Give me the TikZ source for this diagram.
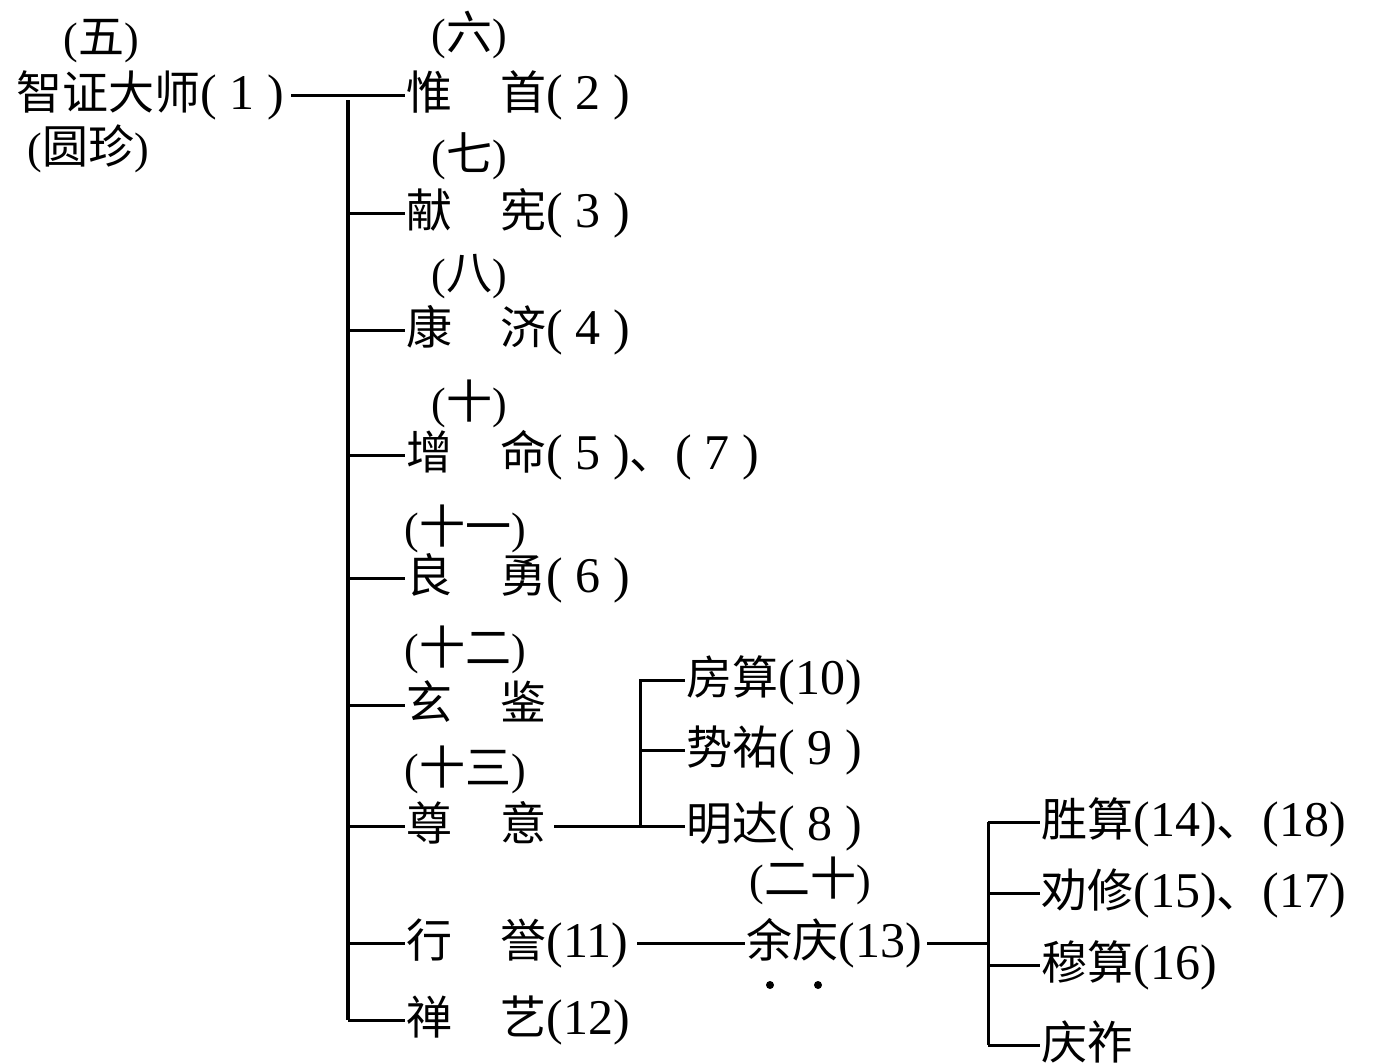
\documentclass[tikz,border=0pt]{standalone}
\usepackage{fontspec}
\setmainfont{Liberation Serif}
\newfontfamily\cjk{Noto Sans CJK SC}
\newcommand\zh[1]{{\fontsize{46}{50}\selectfont\cjk #1}}
\newcommand\gap{\hspace{48pt}}
\begin{document}
\begin{tikzpicture}[x=1pt,y=-1pt,
  line width=3pt,
  lbl/.style={anchor=west, inner sep=0pt, text height=40pt, text depth=12pt,
              font=\fontsize{50}{56}\selectfont},
  ord/.style={anchor=west, inner sep=0pt, text height=36pt, text depth=10pt,
              font=\fontsize{44}{48}\selectfont},
  trunk/.style={line width=4pt},
  dotmark/.style={circle, fill=black, inner sep=0pt, minimum size=8pt}]
\useasboundingbox (0,0) rectangle (1383,1063);
\fill[white] (0,0) rectangle (1383,1063);

% root
\node[ord] (o1) at (62,40) {(\zh{五})};
\node[lbl] (n1) at (15,95) {\zh{智证大师}( 1 )};
\node[ord] (o1b) at (26,150) {(\zh{圆珍})};

% first level
\node[ord] (o2) at (430,36) {(\zh{六})};
\node[lbl] (c2) at (405,95) {\zh{惟}\gap\zh{首}( 2 )};
\node[ord] (o3) at (430,157) {(\zh{七})};
\node[lbl] (c3) at (405,213) {\zh{献}\gap\zh{宪}( 3 )};
\node[ord] (o4) at (430,276) {(\zh{八})};
\node[lbl] (c4) at (405,330) {\zh{康}\gap\zh{济}( 4 )};
\node[ord] (o5) at (430,405) {(\zh{十})};
\node[lbl] (c5) at (405,455) {\zh{增}\gap\zh{命}( 5 )\zh{、}( 7 )};
\node[ord] (o6) at (403,530) {(\zh{十一})};
\node[lbl] (c6) at (405,578) {\zh{良}\gap\zh{勇}( 6 )};
\node[ord] (o7) at (403,651) {(\zh{十二})};
\node[lbl] (c7) at (405,705) {\zh{玄}\gap\zh{鉴}};
\node[ord] (o9) at (403,771) {(\zh{十三})};
\node[lbl] (c9) at (405,826) {\zh{尊}\gap\zh{意}};
\node[lbl] (c11) at (405,943) {\zh{行}\gap\zh{誉}(11)};
\node[lbl] (c12) at (405,1020) {\zh{禅}\gap\zh{艺}(12)};

% trunk
\coordinate (tt) at (348,100);
\coordinate (tb) at (348,1020);
\draw[trunk] (tt) -- (tb);
\draw (n1.east) ++(6,0) -- (c2.west);
\foreach \c in {c3,c4,c5,c6,c7,c9,c11,c12}
  \draw (tb |- \c.west) -- (\c.west);

% 尊意 branch
\node[lbl] (m10) at (685,680) {\zh{房算}(10)};
\node[lbl] (m9) at (685,750) {\zh{势祐}( 9 )};
\node[lbl] (m8) at (685,826) {\zh{明达}( 8 )};
\coordinate (j1) at (640,826);
\draw (c9.east) ++(6,0) -- (m8.west);
\draw (j1) -- (j1 |- m10.west) -- (m10.west);
\draw (j1 |- m9.west) -- (m9.west);

% 行誉 branch
\node[ord] (o13) at (748,882) {(\zh{二十})};
\node[lbl] (y13) at (745,943) {\zh{余庆}(13)};
\node[dotmark] (d1) at (770,985) {};
\node[dotmark] (d2) at (818,985) {};
\draw (c11.east) ++(8,0) -- (y13.west);

% 余庆 branch
\node[lbl] (s14) at (1040,822) {\zh{胜算}(14)\zh{、}(18)};
\node[lbl] (s15) at (1040,893) {\zh{劝修}(15)\zh{、}(17)};
\node[lbl] (s16) at (1040,965) {\zh{穆算}(16)};
\node[lbl] (s0) at (1040,1045) {\zh{庆祚}};
\coordinate (j2t) at (988,822);
\coordinate (j2b) at (988,1045);
\draw (j2t) -- (j2b);
\draw (y13.east) ++(4,0) -- (j2t |- y13.east);
\foreach \c in {s14,s15,s16,s0}
  \draw (j2t |- \c.west) -- (\c.west);
\end{tikzpicture}
\end{document}
